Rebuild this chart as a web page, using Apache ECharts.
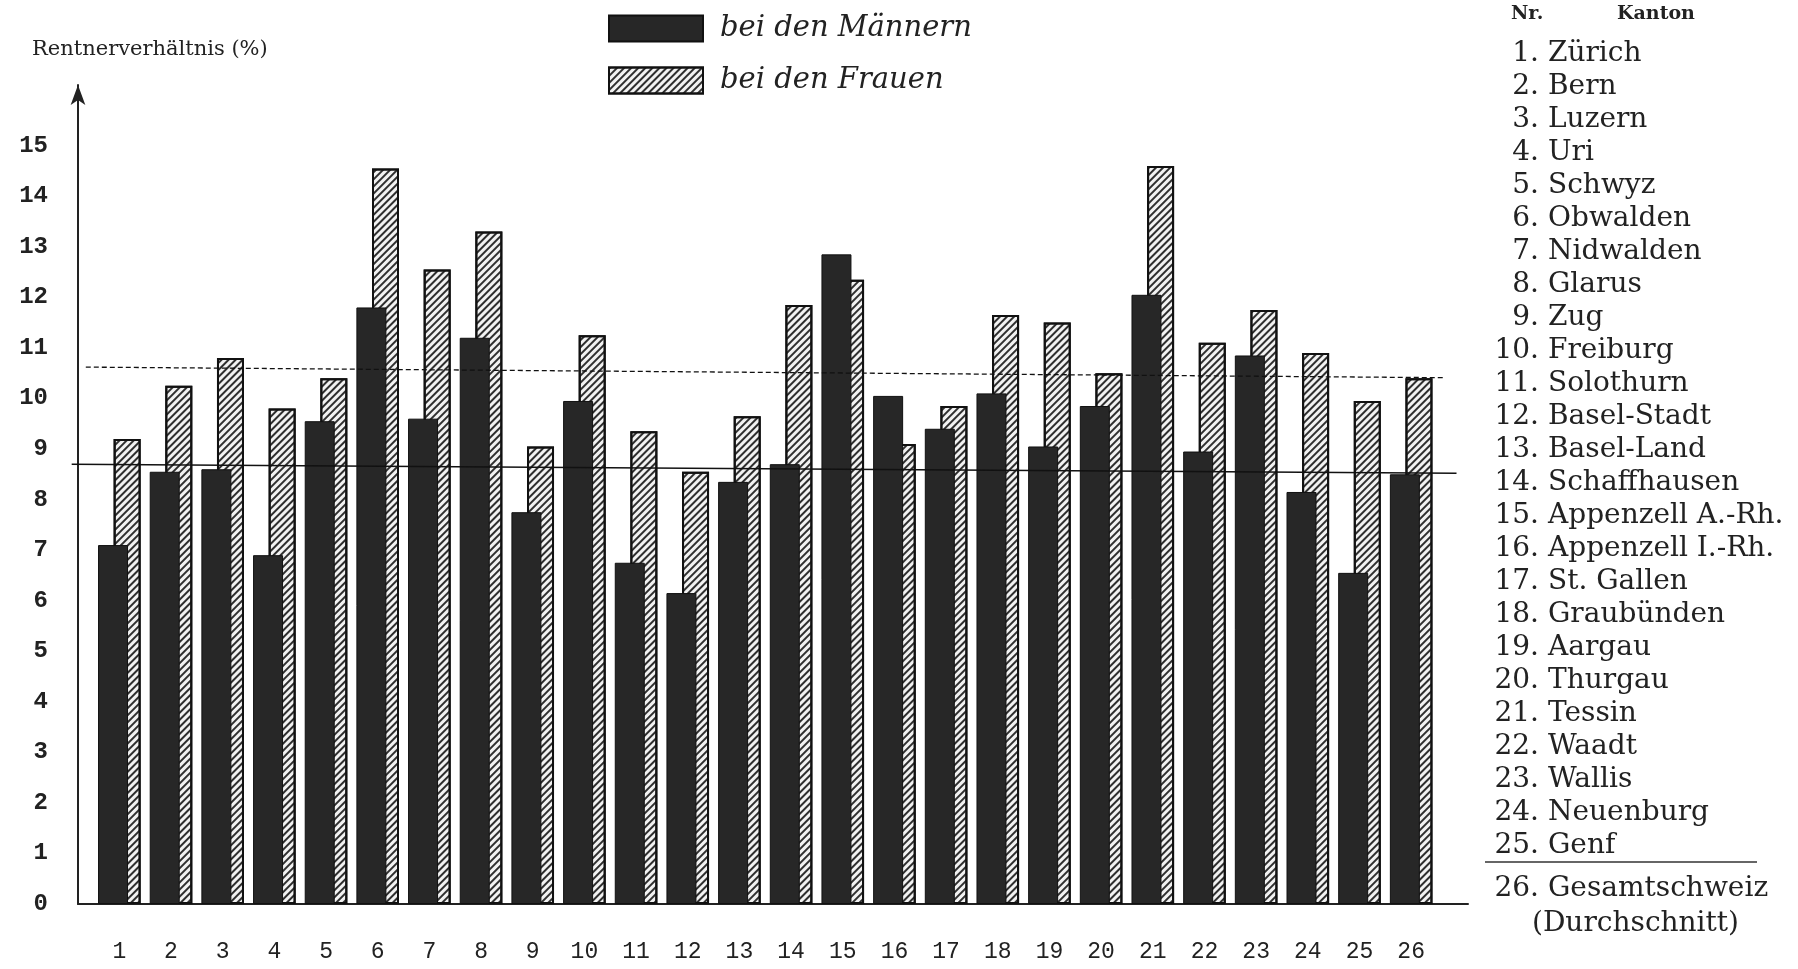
<!DOCTYPE html>
<html>
<head>
<meta charset="utf-8">
<title>Rentnerverhältnis nach Kantonen</title>
<script src="https://cdn.jsdelivr.net/npm/echarts@6/dist/echarts.min.js"></script>
<style>
  html, body { margin: 0; padding: 0; background: #fff; }
  #chart { width: 1798px; height: 969px; }
</style>
</head>
<body>
<div id="chart"></div>
<script>
// Kantone in der Reihenfolge der Nummern
var categories = ['1','2','3','4','5','6','7','8','9','10','11','12','13','14','15','16','17','18','19','20','21','22','23','24','25','26'];
var kantone = ['Zürich','Bern','Luzern','Uri','Schwyz','Obwalden','Nidwalden','Glarus','Zug','Freiburg',
  'Solothurn','Basel-Stadt','Basel-Land','Schaffhausen','Appenzell A.-Rh.','Appenzell I.-Rh.','St. Gallen',
  'Graubünden','Aargau','Thurgau','Tessin','Waadt','Wallis','Neuenburg','Genf'];
var gesamt = ['Gesamtschweiz', '(Durchschnitt)'];

// Rentnerverhältnis in %
var maenner = [7.1, 8.55, 8.6, 6.9, 9.55, 11.8, 9.6, 11.2, 7.75, 9.95, 6.75, 6.15, 8.35, 8.7, 12.85, 10.05, 9.4, 10.1, 9.05, 9.85, 12.05, 8.95, 10.85, 8.15, 6.55, 8.5];
var frauen = [9.2, 10.25, 10.8, 9.8, 10.4, 14.55, 12.55, 13.3, 9.05, 11.25, 9.35, 8.55, 9.65, 11.85, 12.35, 9.1, 9.85, 11.65, 11.5, 10.5, 14.6, 11.1, 11.75, 10.9, 9.95, 10.4];

// Durchschnittslinien (links, rechts) wie im Bild leicht schräg
var schnittMaenner = [8.7, 8.52];
var schnittFrauen = [10.62, 10.41];

var yTicks = [0,1,2,3,4,5,6,7,8,9,10,11,12,13,14,15];

var chart = echarts.init(document.getElementById('chart'));

var xMin = 0.2, xMax = 27.1;
var listFont = '28px "DejaVu Serif"';

// Liste rechts
var listItems = [
  { type: 'text', x: 1511, y: 14, style: { text: 'Nr.', font: 'bold 19px "DejaVu Serif"', fill: '#222', align: 'left', verticalAlign: 'middle' } },
  { type: 'text', x: 1617, y: 14, style: { text: 'Kanton', font: 'bold 19px "DejaVu Serif"', fill: '#222', align: 'left', verticalAlign: 'middle' } }
];
for (var i = 0; i < kantone.length; i++) {
  var yy = 54 + i * 32.97;
  listItems.push({ type: 'text', x: 1539, y: yy, style: { text: (i + 1) + '.', font: listFont, fill: '#222', align: 'right', verticalAlign: 'middle' } });
  listItems.push({ type: 'text', x: 1548, y: yy, style: { text: kantone[i], font: listFont, fill: '#222', align: 'left', verticalAlign: 'middle' } });
}
listItems.push({ type: 'line', shape: { x1: 1485, y1: 862, x2: 1757, y2: 862 }, style: { stroke: '#333', lineWidth: 1.5 } });
listItems.push({ type: 'text', x: 1539, y: 889, style: { text: '26.', font: listFont, fill: '#222', align: 'right', verticalAlign: 'middle' } });
listItems.push({ type: 'text', x: 1548, y: 889, style: { text: gesamt[0], font: listFont, fill: '#222', align: 'left', verticalAlign: 'middle' } });
listItems.push({ type: 'text', x: 1532, y: 924, style: { text: gesamt[1], font: listFont, fill: '#222', align: 'left', verticalAlign: 'middle' } });

// Achsentitel
listItems.push({ type: 'text', x: 32, y: 50, style: { text: 'Rentnerverhältnis (%)', font: '21px "DejaVu Serif"', fill: '#222', align: 'left', verticalAlign: 'middle' } });

var hatch = {
  symbol: 'rect',
  symbolSize: 1,
  color: 'rgba(25,25,25,0.9)',
  dashArrayX: [1, 0],
  dashArrayY: [1.4, 3],
  rotation: -Math.PI / 4
};

chart.setOption({
  backgroundColor: '#fff',
  animation: false,
  legend: {
    orient: 'vertical',
    left: 608,
    top: 14,
    padding: 0,
    itemWidth: 94,
    itemHeight: 26,
    itemGap: 23,
    icon: 'rect',
    textStyle: {
      fontFamily: '"DejaVu Serif"',
      fontStyle: 'italic',
      fontSize: 29,
      color: '#222',
      padding: [0, 0, 0, 12]
    },
    data: ['bei den Männern', 'bei den Frauen']
  },
  grid: {
    left: 78,
    right: 330,
    top: 85,
    bottom: 65,
    containLabel: false
  },
  xAxis: {
    type: 'value',
    min: xMin,
    max: xMax,
    splitLine: { show: false },
    axisTick: { show: false },
    axisLine: { show: true, lineStyle: { color: '#222', width: 2 } },
    axisLabel: {
      customValues: categories.map(function (c, i) { return i + 1; }),
      formatter: function (v) { return categories[v - 1] || ''; },
      margin: 36,
      fontFamily: '"Liberation Mono"',
      fontSize: 23,
      color: '#222'
    }
  },
  yAxis: {
    type: 'value',
    min: 0,
    max: 16.2,
    splitLine: { show: false },
    axisTick: { show: false },
    axisLine: {
      show: true,
      symbol: ['none', 'arrow'],
      symbolSize: [11, 20],
      lineStyle: { color: '#222', width: 2 }
    },
    axisLabel: {
      customValues: yTicks,
      margin: 30,
      fontFamily: '"Liberation Mono"',
      fontWeight: 'bold',
      fontSize: 24,
      color: '#222'
    }
  },
  series: [
    {
      name: 'bei den Männern',
      type: 'bar',
      z: 3,
      barWidth: 30,
      barGap: '-48%',
      itemStyle: { color: '#272727', borderColor: '#111', borderWidth: 1 },
      data: maenner.map(function (v, i) { return [i + 1, v]; }),
      markLine: {
        silent: true,
        symbol: ['none', 'none'],
        label: { show: false },
        lineStyle: { color: '#111', width: 1.5, type: 'solid' },
        data: [[{ coord: [xMin, schnittMaenner[0]] }, { coord: [27.0, schnittMaenner[1]] }]]
      }
    },
    {
      name: 'bei den Frauen',
      type: 'bar',
      z: 2,
      barWidth: 27,
      itemStyle: { color: '#f2f2f2', borderColor: '#111', borderWidth: 2, decal: hatch },
      data: frauen.map(function (v, i) { return [i + 1, v]; }),
      markLine: {
        silent: true,
        symbol: ['none', 'none'],
        label: { show: false },
        lineStyle: { color: '#111', width: 1.3, type: [5, 3] },
        data: [[{ coord: [xMin, schnittFrauen[0]] }, { coord: [26.5, schnittFrauen[1]] }]]
      }
    }
  ],
  graphic: listItems
});
</script>
</body>
</html>
